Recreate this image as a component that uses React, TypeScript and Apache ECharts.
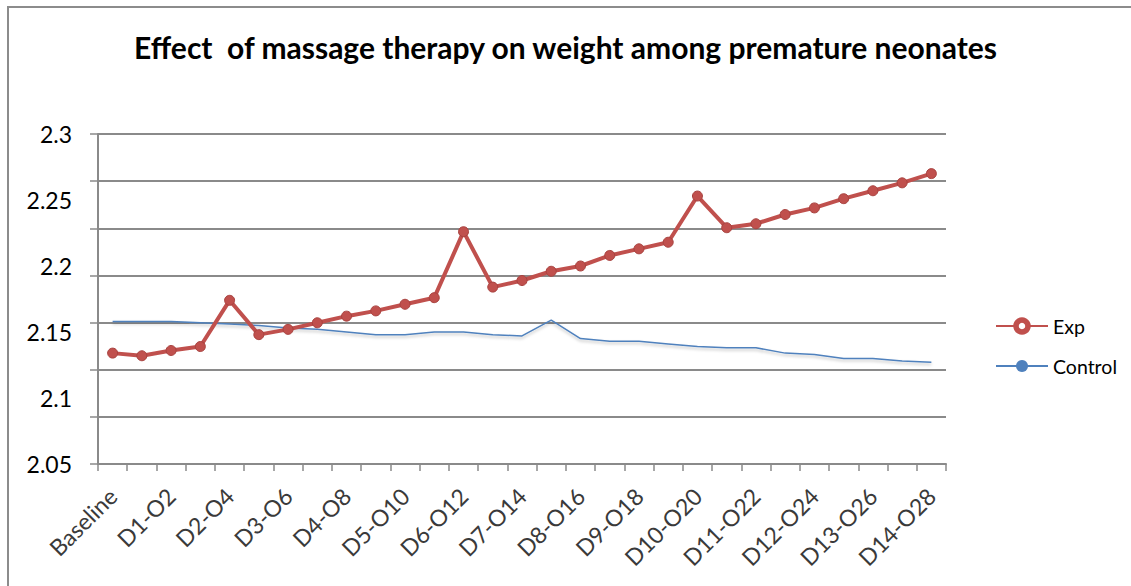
import React, { useEffect, useRef } from "react";
import * as echarts from "echarts";

const categories = [
  "Baseline",
  "D1-O1", "D1-O2", "D2-O3", "D2-O4", "D3-O5", "D3-O6", "D4-O7", "D4-O8",
  "D5-O9", "D5-O10", "D6-O11", "D6-O12", "D7-O13", "D7-O14", "D8-O15", "D8-O16",
  "D9-O17", "D9-O18", "D10-O19", "D10-O20", "D11-O21", "D11-O22", "D12-O23", "D12-O24",
  "D13-O25", "D13-O26", "D14-O27", "D14-O28",
];

const expValues = [
  2.134, 2.132, 2.136, 2.139, 2.174, 2.148, 2.152, 2.157, 2.162, 2.166,
  2.171, 2.176, 2.226, 2.184, 2.189, 2.196, 2.2, 2.208, 2.213, 2.218,
  2.253, 2.229, 2.232, 2.239, 2.244, 2.251, 2.257, 2.263, 2.27,
];

const controlValues = [
  2.158, 2.158, 2.158, 2.157, 2.156, 2.155, 2.153, 2.152, 2.15, 2.148,
  2.148, 2.15, 2.15, 2.148, 2.147, 2.159, 2.145, 2.143, 2.143, 2.141,
  2.139, 2.138, 2.138, 2.134, 2.133, 2.13, 2.13, 2.128, 2.127,
];

const seriesNames = ["Exp", "Control"];
const titleText = "Effect  of massage therapy on weight among premature neonates";

export default function App() {
  const ref = useRef<HTMLDivElement>(null);
  useEffect(() => {
    if (!ref.current) return;
    const chart = echarts.init(ref.current, undefined, { renderer: "svg" });
    const font = "Lato, 'Open Sans', sans-serif";
    const gridColor = "#8a8a8a";
    chart.setOption({
      animation: false,
      backgroundColor: "#ffffff",
      textStyle: { fontFamily: font },
      title: {
        text: titleText,
        left: "center",
        top: 27,
        textStyle: { fontFamily: font, fontWeight: "bold", fontSize: 30, color: "#000" },
      },
      graphic: [
        {
          type: "rect",
          shape: { x: 8, y: 7, width: 1400, height: 900 },
          style: { fill: "none", stroke: "#8c8c8c", lineWidth: 2 },
          silent: true,
        },
      ],
      legend: {
        orient: "vertical",
        left: 990,
        top: 311,
        itemWidth: 52,
        itemHeight: 15,
        itemGap: 20,
        textStyle: { fontFamily: font, fontSize: 19.5, color: "#000" },
        data: [
          {
            name: seriesNames[0],
            itemStyle: { color: "#ffffff", borderColor: "#C0504D", borderWidth: 5.5 },
          },
          { name: seriesNames[1] },
        ],
      },
      grid: { left: 98, right: 185, top: 134, bottom: 122, containLabel: false },
      xAxis: {
        type: "category",
        data: categories,
        boundaryGap: true,
        axisLine: { show: true, lineStyle: { color: gridColor, width: 2 } },
        axisTick: { show: true, interval: 0, length: 7, lineStyle: { color: gridColor, width: 1.5 } },
        axisLabel: {
          interval: 1,
          rotate: 45,
          margin: 28,
          fontSize: 23,
          color: "#3a3a3a",
          fontFamily: font,
        },
        splitLine: { show: false },
      },
      yAxis: [
        {
          type: "value",
          min: 2.05,
          max: 2.3,
          interval: 0.05,
          axisLine: { show: true, lineStyle: { color: gridColor, width: 2 } },
          axisTick: { show: false },
          splitLine: { show: false },
          axisLabel: {
            fontSize: 23,
            color: "#000",
            margin: 26,
            fontFamily: font,
            formatter: (v: number) => String(Number(v.toFixed(2))),
          },
        },
        {
          type: "value",
          min: 0,
          max: 7,
          interval: 1,
          position: "left",
          offset: 0,
          axisLine: { show: false },
          axisTick: { show: true, inside: false, length: 8, lineStyle: { color: gridColor, width: 1.5 } },
          axisLabel: { show: false },
          splitLine: { show: true, lineStyle: { color: gridColor, width: 2 } },
        },
      ],
      series: [
        {
          name: seriesNames[0],
          type: "line",
          yAxisIndex: 0,
          data: expValues,
          symbol: "circle",
          symbolSize: 10,
          lineStyle: { color: "#C0504D", width: 4 },
          itemStyle: { color: "#C0504D", borderColor: "#A8423F", borderWidth: 1 },
          z: 3,
        },
        {
          name: seriesNames[1],
          type: "line",
          yAxisIndex: 0,
          data: controlValues,
          symbol: "circle",
          symbolSize: 10,
          showSymbol: false,
          lineStyle: {
            color: "#4F81BD",
            width: 1.5,
            shadowColor: "rgba(0,0,0,0.25)",
            shadowBlur: 3,
            shadowOffsetY: 2,
          },
          itemStyle: { color: "#4F81BD" },
          z: 2,
        },
      ],
    });
    return () => chart.dispose();
  }, []);
  return (
    <div
      ref={ref}
      style={{ position: "fixed", left: 0, top: 0, width: 1131, height: 586, background: "#fff" }}
    />
  );
}
